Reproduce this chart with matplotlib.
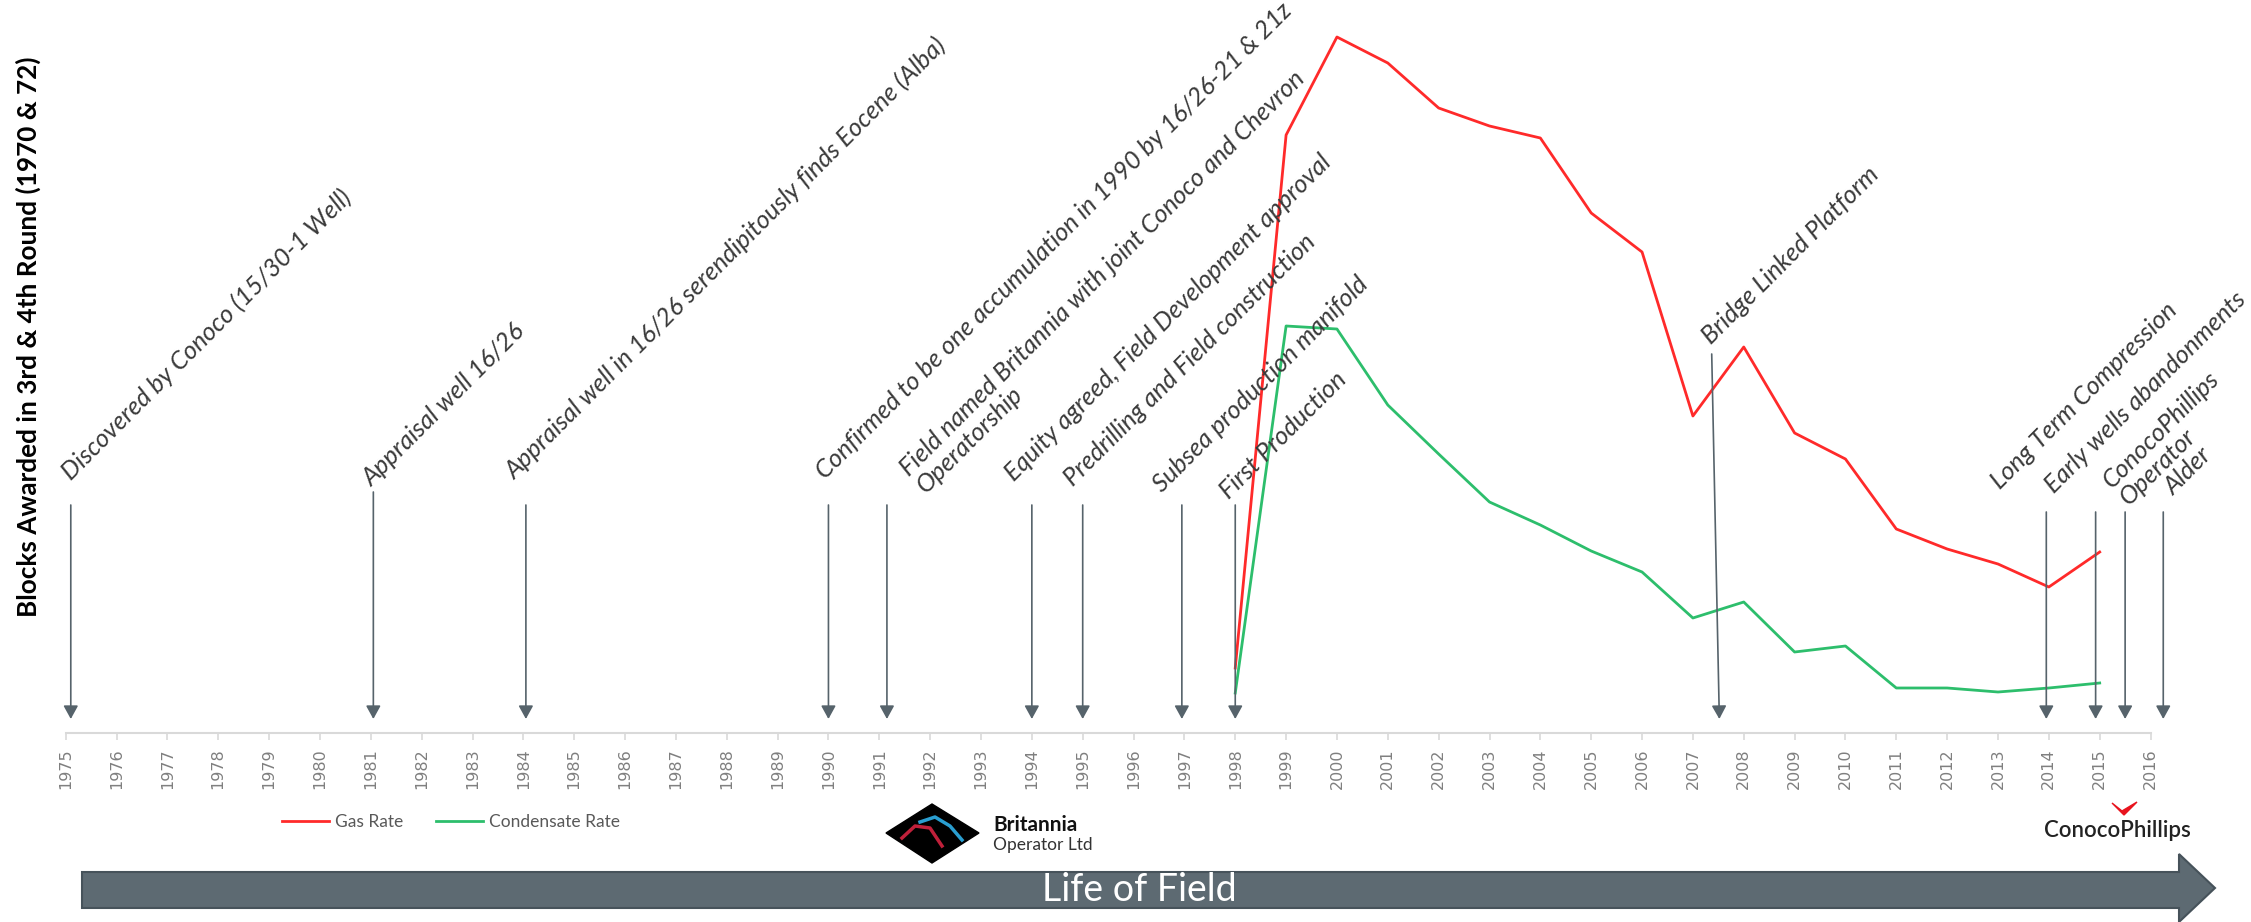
import numpy as np
import matplotlib.pyplot as plt
from matplotlib.patches import Polygon

# production profile (relative units)
years = [1998, 1999, 2000, 2001, 2002, 2003, 2004, 2005, 2006, 2007,
         2008, 2009, 2010, 2011, 2012, 2013, 2014, 2015]
gas_rate = [65, 598, 696, 670, 625, 607, 595, 520, 481, 317,
            386, 300, 274, 204, 184, 169, 146, 181]
condensate_rate = [40, 407, 404, 328, 279, 231, 208, 182, 161, 115,
                   131, 81, 87, 45, 45, 41, 45, 50]

tick_years = list(range(1975, 2017))

# milestones
event_years = [1975.1, 1981.05, 1984.05, 1990.0, 1991.15, 1994.0, 1995.0,
               1996.95, 1998.0, 2007.52, 2013.95, 2014.92, 2015.5, 2016.25]
event_labels = [
    'Discovered by Conoco (15/30-1 Well)',
    'Appraisal well 16/26',
    'Appraisal well in 16/26 serendipitously finds Eocene (Alba)',
    'Confirmed to be one accumulation in 1990 by 16/26-21 & 21z',
    'Field named Britannia with joint Conoco and Chevron\nOperatorship',
    'Equity agreed, Field Development approval',
    'Predrilling and Field construction',
    'Subsea production manifold',
    'First Production',
    'Bridge Linked Platform',
    'Long Term Compression',
    'Early wells abandonments',
    'ConocoPhillips\nOperator',
    'Alder',
]

# layout of the milestone arrows / labels (in axes data units)
arrow_top = [228, 241, 228, 228, 228, 228, 228, 228, 228, 379, 221, 221, 221, 221]
arrow_tip = 14
top_dx = [0, 0, 0, 0, 0, 0, 0, 0, 0, -0.15, 0, 0, 0, 0]
# anchor = start of the last line's baseline
label_xy = [(1975.11, 252), (1981.02, 246), (1983.83, 253), (1989.93, 253),
            (1991.9, 240), (1993.65, 251), (1994.81, 246), (1996.56, 240),
            (1997.88, 233), (2007.36, 388), (2013.04, 243), (2014.1, 239),
            (2015.56, 228), (2016.45, 237)]

W, H = 2251, 922


def fx(px):
    return px / W


def fy(py):
    return 1 - py / H


def main():
    plt.rcParams['font.family'] = ['Lato', 'DejaVu Sans']
    fig = plt.figure(figsize=(W / 100, H / 100), dpi=100)

    ax = fig.add_axes([fx(14.85), fy(733), 44 * 50.85 / W, 733 / H])
    ax.set_xlim(1974, 2018)
    ax.set_ylim(0, 733)
    ax.patch.set_alpha(0)

    ax.plot(years, gas_rate, color='#ff2a2a', lw=2, label='Gas Rate', zorder=2)
    ax.plot(years, condensate_rate, color='#2dbe6c', lw=2, label='Condensate Rate', zorder=2)

    for i in range(len(event_years)):
        ax.annotate('', xy=(event_years[i], arrow_tip),
                    xytext=(event_years[i] + top_dx[i], arrow_top[i]),
                    arrowprops=dict(arrowstyle='-|>,head_length=0.4,head_width=0.22',
                                    color='#56636b', lw=1.2, shrinkA=0, shrinkB=0,
                                    mutation_scale=20), zorder=3)
        ax.text(label_xy[i][0], label_xy[i][1], event_labels[i], rotation=45,
                rotation_mode='anchor', ha='left', va='baseline', fontsize=18.2,
                style='italic', color='#3a3a3a', linespacing=1.05)

    for s in ['top', 'left', 'right']:
        ax.spines[s].set_visible(False)
    ax.spines['bottom'].set_bounds(1975, 2016)
    ax.spines['bottom'].set_color('#d9d9d9')
    ax.spines['bottom'].set_linewidth(1.5)
    ax.set_yticks([])
    ax.set_xticks(tick_years)
    ax.set_xticklabels([str(y) for y in tick_years], rotation=90, color='#7f7f7f',
                       fontsize=11.5, family='DejaVu Sans')
    ax.tick_params(axis='x', length=5, width=1.2, color='#d9d9d9', pad=6)

    fig.text(fx(28), fy(337), 'Blocks Awarded in 3rd & 4th Round (1970 & 72)',
             rotation=90, ha='center', va='center', fontsize=18.8, fontweight='bold',
             color='black')

    h, l = ax.get_legend_handles_labels()
    fig.legend(h, l, loc='center left', bbox_to_anchor=(fx(282), fy(822)), ncol=2,
               frameon=False, fontsize=12.5, handlelength=2.7, handletextpad=0.36,
               columnspacing=1.9, borderpad=0, borderaxespad=0, labelcolor='#595959')

    # Britannia logo
    diamond = [(886, 833), (932, 804), (979, 833), (932, 863)]
    fig.add_artist(Polygon([(fx(a), fy(b)) for a, b in diamond], closed=True,
                           transform=fig.transFigure, color='black'))
    fig.add_artist(plt.Line2D([fx(902), fx(915), fx(930), fx(942)],
                              [fy(838), fy(826), fy(828), fy(846)],
                              transform=fig.transFigure, color='#c0203a', lw=2.5))
    fig.add_artist(plt.Line2D([fx(920), fx(935), fx(950), fx(962)],
                              [fy(822), fy(817), fy(826), fy(840)],
                              transform=fig.transFigure, color='#2a9ed0', lw=2.5))
    fig.text(fx(993), fy(825), 'Britannia', fontsize=15, fontweight='bold',
             ha='left', va='center', color='#111111')
    fig.text(fx(993), fy(845), 'Operator Ltd', fontsize=12.5, ha='left', va='center',
             color='#333333')

    # ConocoPhillips logo
    fig.text(fx(2117), fy(830), 'ConocoPhillips', fontsize=16, ha='center', va='center',
             color='#222222', fontweight='semibold')
    tick_mark = [(2112, 803), (2122, 811), (2137, 802), (2124, 815)]
    fig.add_artist(Polygon([(fx(a), fy(b)) for a, b in tick_mark], closed=True,
                           transform=fig.transFigure, color='#e8141e'))

    # Life of Field arrow
    arrow = [(82, 872), (2179, 872), (2179, 854), (2215, 888), (2179, 922),
             (2179, 908), (82, 908)]
    fig.add_artist(Polygon([(fx(a), fy(b)) for a, b in arrow], closed=True,
                           transform=fig.transFigure, facecolor='#5d6a72',
                           edgecolor='#46525a', lw=1.5))
    fig.text(fx(1139), fy(890), 'Life of Field', fontsize=27, ha='center', va='center',
             color='white')

    fig.savefig('out.png', dpi=100)


if __name__ == '__main__':
    main()
